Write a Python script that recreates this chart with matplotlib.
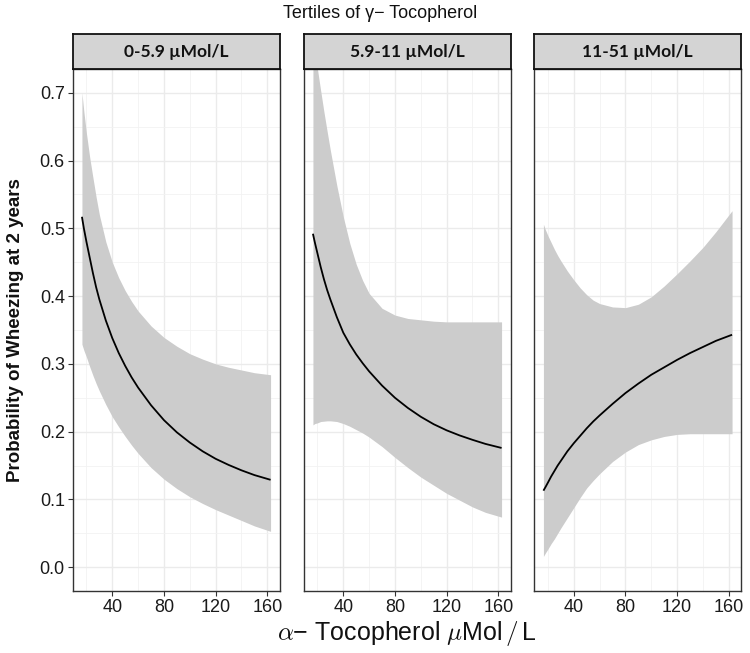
import matplotlib
matplotlib.use("Agg")
import matplotlib.pyplot as plt
from matplotlib.ticker import MultipleLocator

plt.rcParams['font.family'] = ['Liberation Sans', 'DejaVu Sans']
plt.rcParams['mathtext.fontset'] = 'cm'

# ---- data ----
panels = ["0-5.9 µMol/L", "5.9-11 µMol/L", "11-51 µMol/L"]
alpha_toc = [16.5, 18, 20, 22.5, 25, 27.5, 30, 35, 40, 45, 50, 55, 60,
             70, 80, 90, 100, 110, 120, 130, 140, 150, 162.5]

fit_1 = [0.517, 0.500, 0.480, 0.457, 0.434, 0.413, 0.395, 0.364, 0.338, 0.316, 0.297, 0.280, 0.265,
         0.239, 0.217, 0.199, 0.184, 0.171, 0.160, 0.151, 0.143, 0.136, 0.129]
upper_1 = [0.700, 0.672, 0.640, 0.605, 0.575, 0.546, 0.520, 0.480, 0.450, 0.427, 0.408, 0.392, 0.378,
           0.356, 0.339, 0.326, 0.315, 0.307, 0.300, 0.295, 0.291, 0.287, 0.284]
lower_1 = [0.329, 0.320, 0.310, 0.296, 0.283, 0.271, 0.260, 0.240, 0.222, 0.207, 0.193, 0.180, 0.168,
           0.147, 0.130, 0.116, 0.104, 0.094, 0.085, 0.077, 0.069, 0.061, 0.053]

fit_2 = [0.492, 0.479, 0.463, 0.443, 0.425, 0.409, 0.395, 0.369, 0.346, 0.329, 0.314, 0.301, 0.289,
         0.268, 0.250, 0.235, 0.222, 0.211, 0.202, 0.1945, 0.188, 0.182, 0.176]
upper_2 = [0.780, 0.760, 0.735, 0.703, 0.672, 0.643, 0.615, 0.563, 0.517, 0.478, 0.447, 0.423, 0.404,
           0.382, 0.372, 0.367, 0.365, 0.363, 0.362, 0.362, 0.362, 0.362, 0.362]
lower_2 = [0.210, 0.212, 0.213, 0.215, 0.2155, 0.216, 0.216, 0.215, 0.212, 0.208, 0.203, 0.198, 0.192,
           0.178, 0.162, 0.147, 0.133, 0.121, 0.109, 0.099, 0.089, 0.081, 0.074]

fit_3 = [0.113, 0.118, 0.125, 0.134, 0.142, 0.150, 0.157, 0.171, 0.183, 0.194, 0.205, 0.215, 0.224,
         0.241, 0.257, 0.271, 0.284, 0.295, 0.306, 0.316, 0.325, 0.334, 0.343]
upper_3 = [0.506, 0.498, 0.489, 0.479, 0.469, 0.460, 0.452, 0.437, 0.424, 0.412, 0.402, 0.394, 0.389,
           0.384, 0.383, 0.388, 0.399, 0.415, 0.433, 0.452, 0.472, 0.495, 0.526]
lower_3 = [0.016, 0.021, 0.027, 0.035, 0.042, 0.050, 0.058, 0.073, 0.088, 0.103, 0.117, 0.128, 0.138,
           0.156, 0.170, 0.181, 0.188, 0.193, 0.196, 0.197, 0.197, 0.197, 0.197]

fits = [fit_1, fit_2, fit_3]
uppers = [upper_1, upper_2, upper_3]
lowers = [lower_1, lower_2, lower_3]

x_ticks = [40, 80, 120, 160]
y_ticks = [0.0, 0.1, 0.2, 0.3, 0.4, 0.5, 0.6, 0.7]

title = "Tertiles of γ− Tocopherol"
xlabel = r"$\alpha$− Tocopherol $\mu$Mol$\,/\,$L"
ylabel = "Probability of Wheezing at 2 years"

# ---- layout ----
W, H = 750, 653
fig = plt.figure(figsize=(W / 100, H / 100), dpi=100)
fig.patch.set_facecolor('white')

lefts = [72.5, 303.5, 534.0]
pw = 207.5
top_px, bot_px = 69, 591
strip_top = 34

def frac(l, t, w, h):
    return [l / W, 1 - (t + h) / H, w / W, h / H]

for i in range(3):
    ax = fig.add_axes(frac(lefts[i], top_px, pw, bot_px - top_px))
    ax.set_facecolor('white')
    ax.fill_between(alpha_toc, lowers[i], uppers[i], color='#CCCCCC', lw=0, zorder=2)
    ax.plot(alpha_toc, fits[i], color='black', lw=1.3, zorder=3,
            solid_joinstyle='round', solid_capstyle='butt')
    ax.set_xlim(9.2, 169.8)
    ax.set_ylim(-0.035, 0.735)
    ax.set_xticks(x_ticks)
    ax.set_yticks(y_ticks)
    ax.xaxis.set_minor_locator(MultipleLocator(20))
    ax.yaxis.set_minor_locator(MultipleLocator(0.05))
    ax.grid(which='major', color='#EBEBEB', lw=1.0, zorder=0)
    ax.grid(which='minor', color='#F2F2F2', lw=0.6, zorder=0)
    ax.set_axisbelow(True)
    ax.tick_params(which='major', length=3.5, width=0.8, color='#333333',
                   labelsize=13, labelcolor='#1a1a1a', pad=2)
    ax.tick_params(which='minor', length=0)
    ax.set_xticklabels([str(t) for t in x_ticks])
    if i == 0:
        ax.set_yticklabels([f"{t:.1f}" for t in y_ticks])
    else:
        ax.tick_params(axis='y', which='major', length=0, labelleft=False)
    for s in ax.spines.values():
        s.set_color('#333333')
        s.set_linewidth(1.0)

    sax = fig.add_axes(frac(lefts[i], strip_top, pw, top_px - strip_top))
    sax.set_facecolor('#D4D4D4')
    sax.set_xticks([])
    sax.set_yticks([])
    for s in sax.spines.values():
        s.set_color('#111111')
        s.set_linewidth(1.3)
    sax.text(0.5, 0.5, panels[i], transform=sax.transAxes, ha='center', va='center',
             fontsize=12.5, fontweight='bold', family=['Lato', 'DejaVu Sans'], color='#111111')

fig.text(380 / W, 1 - 14 / H, title, ha='center', va='center', fontsize=13, color='#111111')
fig.text(16 / W, 1 - 330 / H, ylabel, ha='center', va='center', rotation=90,
         fontsize=13.5, fontweight='bold', color='#111111')
fig.text(407 / W, 1 - 634 / H, xlabel, ha='center', va='center', fontsize=18, color='#111111')

fig.savefig('out.png', dpi=100)
